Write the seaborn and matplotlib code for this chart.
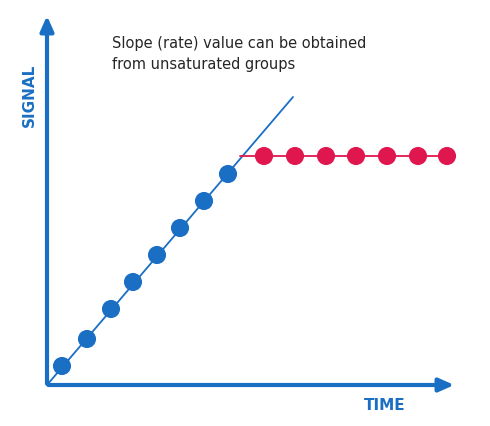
import matplotlib
matplotlib.use("Agg")
import matplotlib.pyplot as plt
import seaborn as sns
import pandas as pd

# points (axis units: 0..410 x, 0..370 y)
blue_x = [15, 40, 64, 86, 110, 133, 157, 181]
blue_y = [19, 46, 76, 103, 130, 157, 184, 211]
red_x = [217, 248, 279, 309, 340, 371, 400]
red_y = [229, 229, 229, 229, 229, 229, 229]
fit_x = [0, 246]
fit_y = [0, 288]
plateau_x = [193, 400]
plateau_y = [229, 229]

BLUE = "#1a6fc4"
RED = "#e0174f"

sns.set_style("white")
fig = plt.figure(figsize=(4.9, 4.26), dpi=100)
ax = fig.add_axes([47 / 490, 41 / 426, 410 / 490, 370 / 426])
ax.set_xlim(0, 410)
ax.set_ylim(0, 370)
ax.axis("off")

ax.plot(fit_x, fit_y, color=BLUE, lw=1.3, zorder=1)
ax.plot(plateau_x, plateau_y, color=RED, lw=1.3, zorder=1)
sns.scatterplot(data=pd.DataFrame({"x": blue_x, "y": blue_y}), x="x", y="y",
                color=BLUE, s=170, edgecolor="none", ax=ax, zorder=3)
sns.scatterplot(data=pd.DataFrame({"x": red_x, "y": red_y}), x="x", y="y",
                color=RED, s=170, edgecolor="none", ax=ax, zorder=3)

# axes arrows
ax.annotate("", xy=(410, 0), xytext=(-1.5, 0),
            arrowprops=dict(arrowstyle="-|>,head_length=0.9,head_width=0.4", color=BLUE, lw=3),
            annotation_clip=False)
ax.annotate("", xy=(0, 372), xytext=(0, -1.5),
            arrowprops=dict(arrowstyle="-|>,head_length=0.9,head_width=0.4", color=BLUE, lw=3),
            annotation_clip=False)

fig.text(29 / 490, 1 - 95 / 426, "SIGNAL", rotation=90, color=BLUE,
         fontsize=11, fontweight="bold", ha="center", va="center")
fig.text(385 / 490, 1 - 405 / 426, "TIME", color=BLUE,
         fontsize=11, fontweight="bold", ha="center", va="center")
fig.text(112 / 490, 1 - 54 / 426,
         "Slope (rate) value can be obtained\nfrom unsaturated groups",
         fontsize=10.5, ha="left", va="center", linespacing=1.5)

fig.savefig("out.png", dpi=100)
